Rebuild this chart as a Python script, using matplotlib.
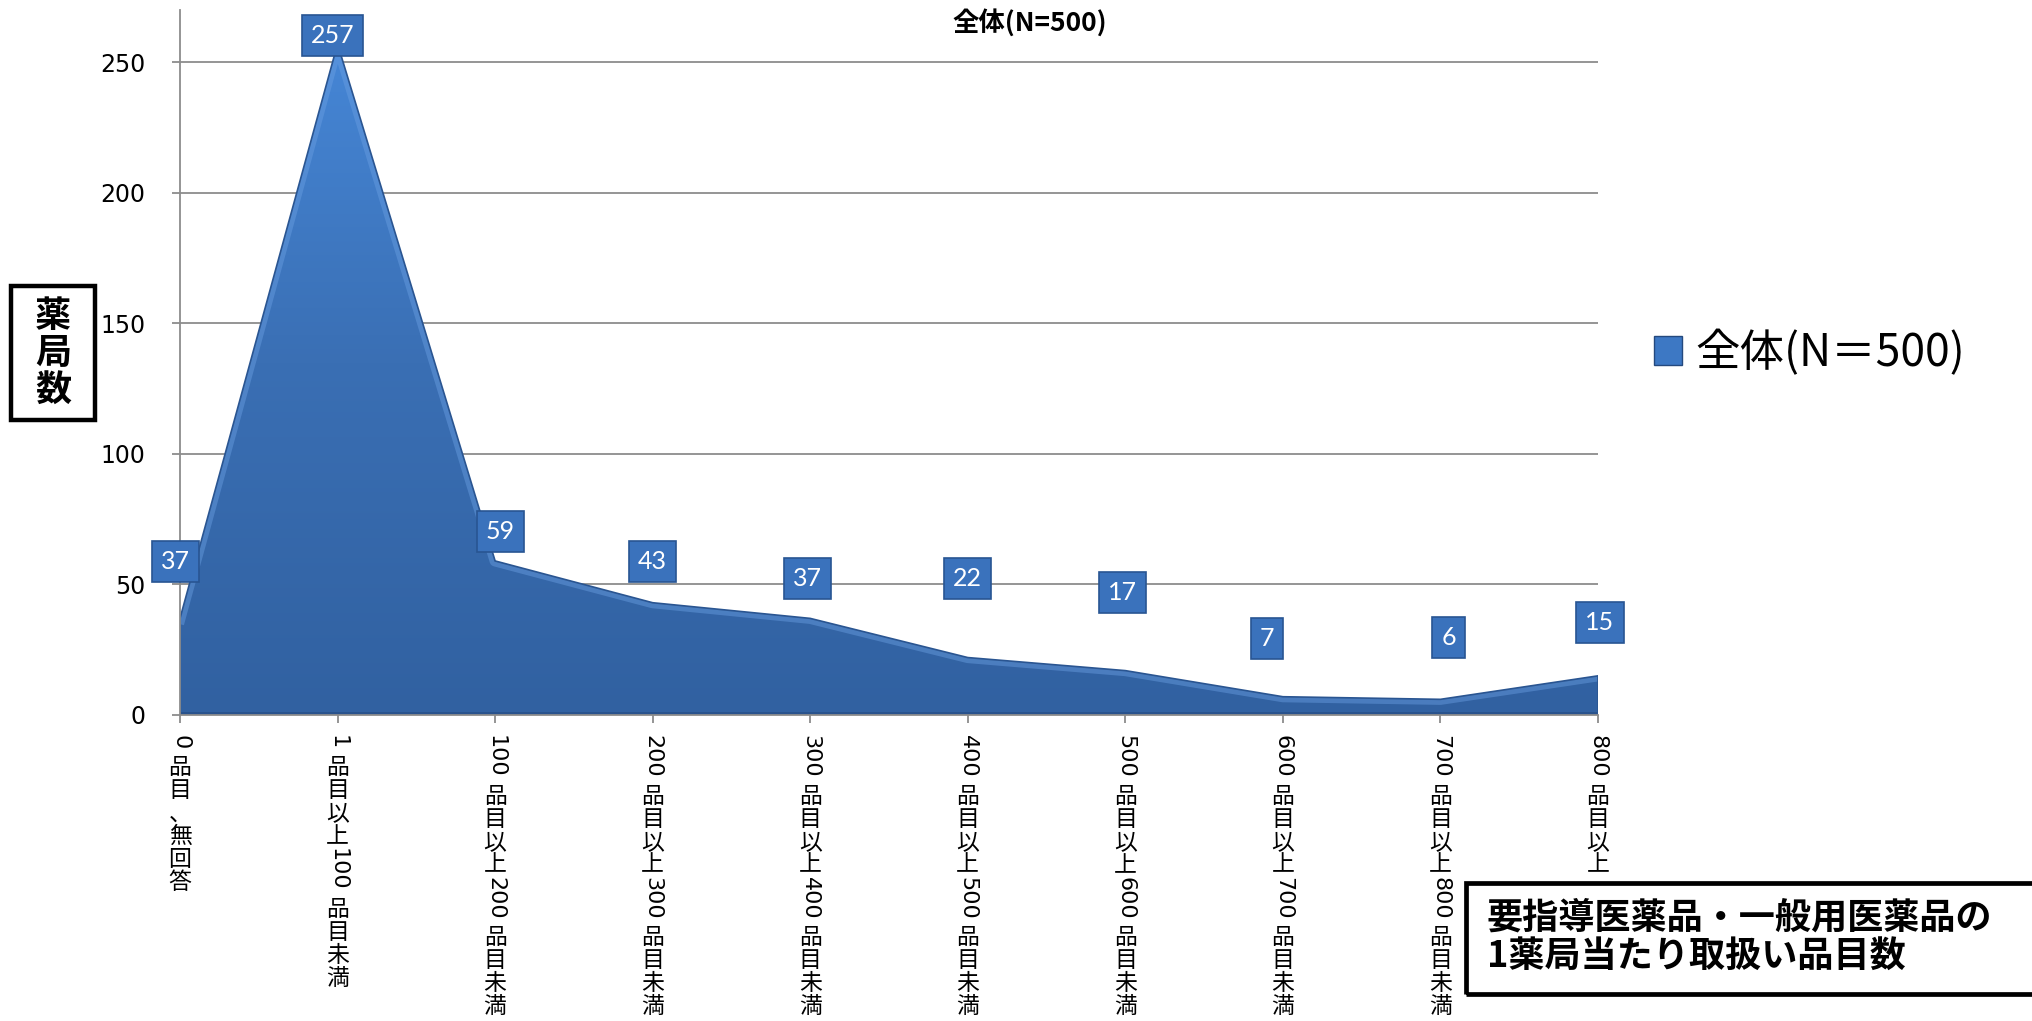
import matplotlib
matplotlib.use('Agg')

import numpy as np
from matplotlib import pyplot as plt
from matplotlib.colors import LinearSegmentedColormap
from matplotlib.patches import Polygon, Rectangle, Patch

# Number of pharmacies per item-count bracket
categories = ['0品目、無回答', '1品目以上100品目未満', '100品目以上200品目未満',
              '200品目以上300品目未満', '300品目以上400品目未満', '400品目以上500品目未満',
              '500品目以上600品目未満', '600品目以上700品目未満', '700品目以上800品目未満',
              '800品目以上']
counts = [37, 257, 59, 43, 37, 22, 17, 7, 6, 15]
series_name = '全体(N=500)'
legend_name = '全体(N＝500)'
y_ticks = [0, 50, 100, 150, 200, 250]

# Pixel offsets of the value boxes relative to each data point
LABEL_OFFSETS = [(-5, 57), (-5, 8), (5, 29), (0, 41), (-3, 40),
                 (0, 79), (-3, 78), (-16, 58), (8, 62), (2, 53)]

W, H = 2032, 1021
JP = 'Noto Sans CJK JP'
GRID = '#8c8c8c'
CJK_STEP = 23  # vertical advance of one stacked kanji, px
DIGIT_GAP = 7  # space left after a sideways number, px

plt.rcParams['font.family'] = ['DejaVu Sans', JP]

fig = plt.figure(figsize=(W / 100, H / 100), dpi=100)
ax = fig.add_axes([180 / W, 1 - 715 / H, (1598 - 180) / W, (715 - 10) / H])

x = np.arange(len(counts))

# area outline, also used to clip the gradient fill
verts = [(0, 0)] + list(zip(x, counts)) + [(x[-1], 0)]
area = Polygon(verts, closed=True, facecolor='none', edgecolor='#2a5591', lw=1.2, zorder=3)
ax.add_patch(area)

cmap = LinearSegmentedColormap.from_list('blue_area', ['#3161a1', '#3a6fb4', '#4789da'])
grad = np.linspace(0, 1, 256).reshape(-1, 1)
img = ax.imshow(grad, cmap=cmap, origin='lower', aspect='auto',
                extent=(0, x[-1], 0, 270), zorder=2)
img.set_clip_path(area)

# bevel highlight along the upper edge and a darker base
hl, = ax.plot(x, counts, color='#6a9fe2', lw=8, alpha=0.45, zorder=2.5, solid_joinstyle='round')
hl.set_clip_path(area)
base, = ax.plot([0, x[-1]], [0, 0], color='#264d85', lw=5, alpha=0.7, zorder=2.5)
base.set_clip_path(area)

ax.set_xlim(0, len(counts) - 1)
ax.set_ylim(0, 270)

ax.set_yticks(y_ticks)
ax.yaxis.grid(True, color=GRID, lw=1.3)
ax.set_axisbelow(True)
for side in ['top', 'right']:
    ax.spines[side].set_visible(False)
for side in ['left', 'bottom']:
    ax.spines[side].set_color(GRID)
    ax.spines[side].set_linewidth(1.3)
    ax.spines[side].set_zorder(4)
ax.tick_params(axis='y', direction='out', length=6, width=1.3, color=GRID,
               pad=19, labelsize=17)
ax.set_xticks(x)
ax.set_xticklabels([])
ax.tick_params(axis='x', direction='out', length=6, width=1.3, color=GRID)

# value boxes
for xi, val, (dx, dy) in zip(x, counts, LABEL_OFFSETS):
    ax.annotate(str(val), (xi, val), xytext=(dx, dy), textcoords='offset pixels',
                ha='center', va='center', fontsize=18, color='white', family='Lato',
                bbox=dict(boxstyle='square,pad=0.36', fc='#3a72bc', ec='#285592', lw=1.2),
                annotation_clip=False, zorder=6)


def split_runs(text):
    runs = []
    for ch in text:
        if runs and ch.isascii() and runs[-1].isascii():
            runs[-1] += ch
        else:
            runs.append(ch)
    return runs


# category labels: kanji stacked upright, numbers turned sideways
renderer = fig.canvas.get_renderer()
for xi, label in zip(x, categories):
    cursor = 20
    for run in split_runs(label):
        if run.isascii():
            t = ax.annotate(run, (xi, 0), xytext=(0, -cursor), textcoords='offset pixels',
                            rotation=-90, ha='center', va='top', fontsize=16,
                            family='DejaVu Sans', annotation_clip=False)
            cursor += t.get_window_extent(renderer).height + DIGIT_GAP
        else:
            ax.annotate(run, (xi, 0), xytext=(0, -cursor), textcoords='offset pixels',
                        ha='center', va='top', fontsize=16.5, family=JP,
                        annotation_clip=False)
            cursor += CJK_STEP

fig.text(1030 / W, 1 - 23 / H, series_name, ha='center', va='center',
         fontsize=19, fontweight='bold', family=JP)

handle = Patch(facecolor='#3d78c4', edgecolor='#24497e', lw=1)
ax.legend(handles=[handle], labels=[legend_name], loc='center left',
          bbox_to_anchor=(1654 / W, 1 - 353 / H), bbox_transform=fig.transFigure,
          frameon=False, borderpad=0, borderaxespad=0, handlelength=0.63,
          handleheight=0.63, handletextpad=0.3, prop={'family': JP, 'size': 32})

# boxed axis title
fig.patches.append(Rectangle((11 / W, 1 - 420 / H), 84 / W, 134 / H, transform=fig.transFigure,
                             fill=False, ec='black', lw=3.2))
fig.text(53 / W, 1 - 353 / H, '薬\n局\n数', ha='center', va='center', fontsize=26,
         fontweight='bold', family=JP, linespacing=1.0)

# boxed chart caption
fig.patches.append(Rectangle((1466 / W, 1 - 994 / H), 600 / W, 111 / H, transform=fig.transFigure,
                             fill=False, ec='black', lw=3.4, clip_on=False))
fig.text(1487 / W, 1 - 937 / H, '要指導医薬品・一般用医薬品の\n1薬局当たり取扱い品目数',
         ha='left', va='center', fontsize=26, fontweight='bold', family=JP, linespacing=1.05)

fig.savefig('out.png', dpi=100)
